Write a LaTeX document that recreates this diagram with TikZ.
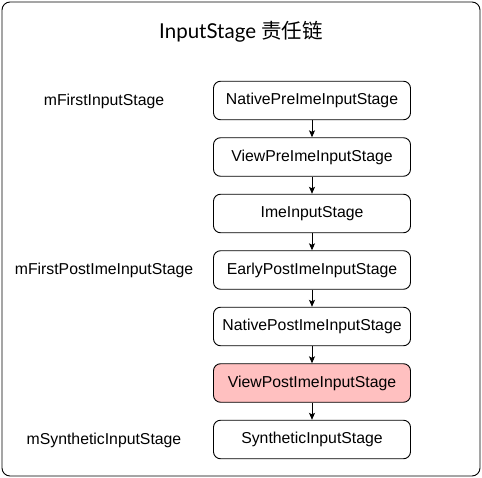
\documentclass[tikz,border=0pt]{standalone}
\usepackage{fontspec}
\usetikzlibrary{arrows.meta}
\setmainfont{Liberation Sans}
\newfontfamily\titlefont{Lato}
\newfontfamily\cjk{Noto Sans CJK SC}

\tikzset{
  stage/.style={draw,rounded corners=7pt,line width=0.9pt,minimum width=197pt,
    minimum height=38.5pt,inner sep=0pt,font=\fontsize{15.8}{18}\selectfont},
  hot/.style={stage,fill=hotred},
  lbl/.style={inner sep=0pt,font=\fontsize{15.8}{18}\selectfont}
}
\definecolor{hotred}{RGB}{255,192,192}

\begin{document}
\begin{tikzpicture}[x=1pt,y=-1pt,>={Stealth[length=7pt,width=6pt,inset=1.5pt]}]
  \useasboundingbox (0,0) rectangle (482,478);
  \draw[rounded corners=8pt,line width=0.9pt] (2,2) rectangle (480,476);
  \node[inner sep=0pt] (title) at (241,32)
    {\fontsize{20.5}{24}\selectfont\titlefont InputStage {\cjk 责任链}};
  \node[stage] (s1) at (312,100.5) {NativePreImeInputStage};
  \node[stage] (s2) at (312,157)   {ViewPreImeInputStage};
  \node[stage] (s3) at (312,213.5) {ImeInputStage};
  \node[stage] (s4) at (312,270)   {EarlyPostImeInputStage};
  \node[stage] (s5) at (312,326.5) {NativePostImeInputStage};
  \node[hot]   (s6) at (312,383)   {ViewPostImeInputStage};
  \node[stage] (s7) at (312,439.5) {SyntheticInputStage};
  \foreach \a/\b in {s1/s2,s2/s3,s3/s4,s4/s5,s5/s6,s6/s7}
    \draw[->,line width=0.9pt] (\a) -- (\b);
  \node[lbl] (first)     at (104,101)   {mFirstInputStage};
  \node[lbl] (firstpost) at (104,270.5) {mFirstPostImeInputStage};
  \node[lbl] (synth)     at (104,440)   {mSyntheticInputStage};
\end{tikzpicture}
\end{document}
